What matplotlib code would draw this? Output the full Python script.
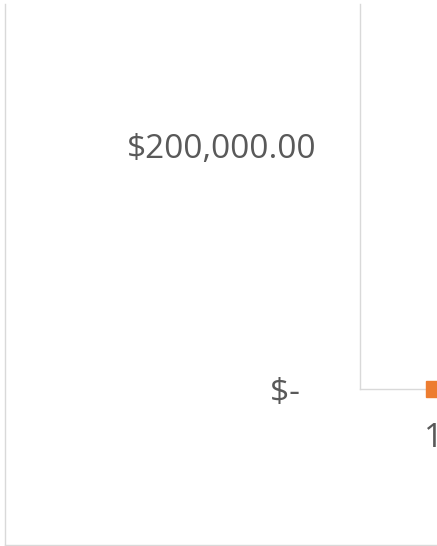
import matplotlib
matplotlib.use("Agg")
import matplotlib.pyplot as plt
from matplotlib.lines import Line2D

categories = ["1"]
values = [0]
ytick_values = [0, 200000]
ytick_labels = ["$-  ", "$200,000.00"]

W, H = 437, 546
fig = plt.figure(figsize=(W / 100, H / 100), dpi=100)
plt.rcParams['font.family'] = ['Open Sans', 'DejaVu Sans']

text_color = "#595959"
grid_color = "#d9d9d9"
orange = "#ed7d31"

# axes placement in pixels
ax_left, ax_right = 360, 437
ax_bottom, ax_top = 389, 4
ax = fig.add_axes([ax_left / W, 1 - ax_bottom / H, (ax_right - ax_left) / W, (ax_bottom - ax_top) / H])

x = list(range(1, len(categories) + 1))
ax.plot(x, values, color=orange, marker="s", markersize=12, linestyle="-", linewidth=2.25,
        clip_on=False, zorder=5)

px_per_unit = 148.0  # pixels per category unit
ax.set_xlim(0.5, 0.5 + (ax_right - ax_left) / px_per_unit)
ax.set_xticks(x)
ax.set_xticklabels(categories)

px_per_val = 243.0 / 200000
ax.set_ylim(0, (ax_bottom - ax_top) / px_per_val)
ax.set_yticks(ytick_values)
ax.set_yticklabels(ytick_labels)

for s in ["top", "right"]:
    ax.spines[s].set_visible(False)
for s in ["left", "bottom"]:
    ax.spines[s].set_color(grid_color)
    ax.spines[s].set_linewidth(1.0)

ax.tick_params(axis="both", length=0, labelsize=24, labelcolor=text_color)
ax.tick_params(axis="y", pad=31)
ax.tick_params(axis="x", pad=24)

# outer chart frame (left and bottom edges visible)
fig.add_artist(Line2D([4.5 / W, 4.5 / W], [1 - 4 / H, 1 - 544.5 / H], color=grid_color,
                      linewidth=1.0, transform=fig.transFigure))
fig.add_artist(Line2D([4.5 / W, 1.0], [1 - 544.5 / H, 1 - 544.5 / H], color=grid_color,
                      linewidth=1.0, transform=fig.transFigure))

fig.savefig("out.png", dpi=100)
